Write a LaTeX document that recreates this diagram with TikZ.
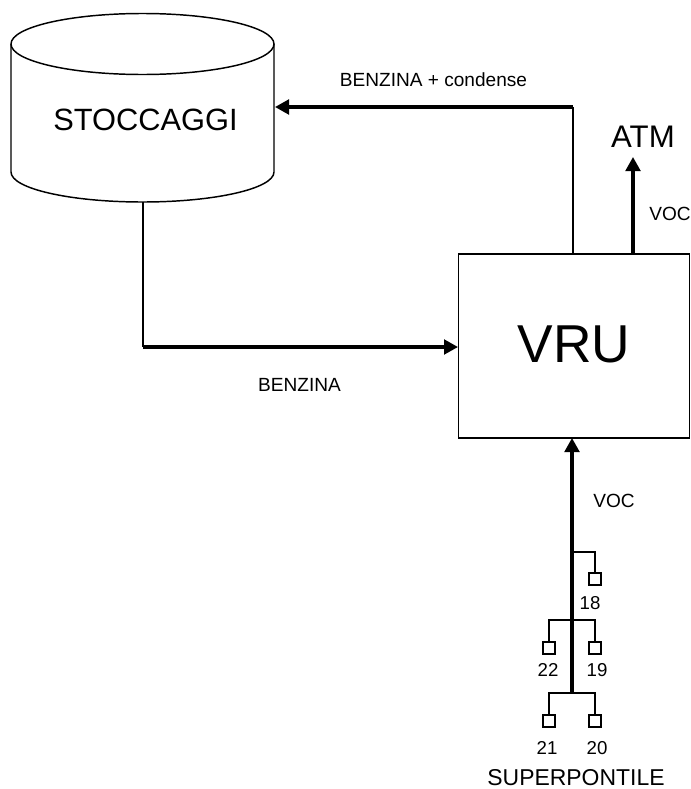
\documentclass[tikz,border=0pt]{standalone}
\usepackage{fontspec}
\setmainfont{Liberation Sans}
\usetikzlibrary{arrows.meta}
\tikzset{
  x=0.75pt,y=-0.75pt,
  thin line/.style={line width=1.1pt,black},
  thick line/.style={line width=2.3pt,black},
  flow/.style={thick line,-{Triangle[length=10.5pt,width=11pt]}},
  valve/.style={draw,line width=1pt,minimum size=9pt,inner sep=0pt,outer sep=0pt},
  txt/.style={inner sep=0pt,outer sep=0pt,anchor=base},
  small/.style={txt,font=\fontsize{14.3}{16}\selectfont},
  num/.style={txt,font=\fontsize{14}{16}\selectfont}
}
\begin{document}
\begin{tikzpicture}
\useasboundingbox (0,0) rectangle (691,789);
% storage cylinder
\draw[thin line] (11,44) arc[x radius=131.5,y radius=30.5,start angle=180,end angle=-180];
\draw[thin line] (11,44) -- (11,172) arc[x radius=131.5,y radius=30,start angle=180,end angle=0] -- (274,44);
\coordinate (tankbottom) at (143,202);
\coordinate (tankside) at (275,107);
\node[txt,font=\fontsize{23.1}{26}\selectfont] (stoccaggi) at (145.5,130) {STOCCAGGI};
% VRU
\node[draw,line width=1.1pt,minimum width=173.2pt,minimum height=138pt,inner sep=0pt,outer sep=0pt,anchor=north west] (vru) at (458.5,254) {};
\node[txt,font=\fontsize{40}{44}\selectfont] (vrutext) at (574,362) {VRU};
% junctions
\coordinate (j1) at (573,107);
\coordinate (j1b) at (573,254);
\coordinate (atmstart) at (633,254);
\coordinate (atmend) at (633,157);
\coordinate (j2) at (143,347);
\coordinate (vruin) at (458,347);
\coordinate (busb) at (572,693);
\coordinate (bust) at (572,438);
\coordinate (b18) at (572,552);
\coordinate (b2) at (572,620);
% main connectors
\draw[thin line] (tankbottom) -- (j2);
\draw[flow] (j2) -- (vruin);
\draw[thin line] (j1b) -- (j1);
\draw[flow] (j1) -- (tankside);
\draw[flow] (atmstart) -- (atmend);
\draw[flow] (busb) -- (bust);
% valves
\node[valve] (v18) at (595,579) {};
\node[valve] (v22) at (549,648) {};
\node[valve] (v19) at (595,648) {};
\node[valve] (v21) at (549,721) {};
\node[valve] (v20) at (595,721) {};
\draw[thin line] (b18) -| (v18.north);
\draw[thin line] (b2) -| (v22.north);
\draw[thin line] (b2) -| (v19.north);
\draw[thin line] (busb) -| (v21.north);
\draw[thin line] (busb) -| (v20.north);
% labels
\node[small] at (433.5,86) {BENZINA + condense};
\node[txt,font=\fontsize{23.4}{26}\selectfont] at (643,147) {ATM};
\node[small] at (670,220) {VOC};
\node[small] at (299.5,391) {BENZINA};
\node[small] at (614,507) {VOC};
\node[num] at (590,609) {18};
\node[num] at (548,676) {22};
\node[num] at (597,676) {19};
\node[num] at (547,754) {21};
\node[num] at (597,754) {20};
\node[txt,font=\fontsize{17.2}{20}\selectfont] at (576,785.5) {SUPERPONTILE};
\end{tikzpicture}
\end{document}
